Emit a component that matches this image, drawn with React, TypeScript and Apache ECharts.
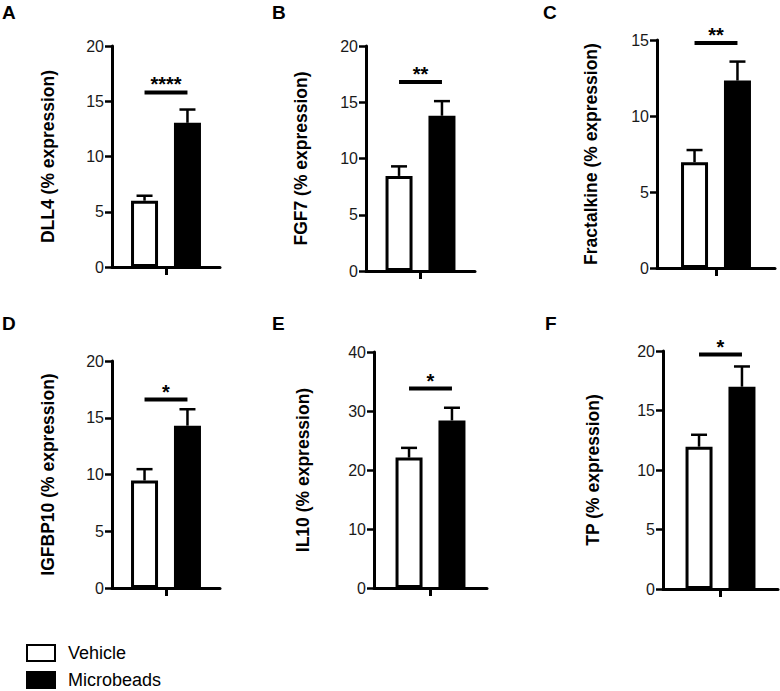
import React, { useEffect, useRef } from "react";
import * as echarts from "echarts";

// ---- data ----
const PANEL_LETTERS = ["A", "B", "C", "D", "E", "F"];
const Y_TITLES = [
  "DLL4 (% expression)",
  "FGF7 (% expression)",
  "Fractalkine (% expression)",
  "IGFBP10 (% expression)",
  "IL10 (% expression)",
  "TP (% expression)",
];
const GROUPS = ["Vehicle", "Microbeads"];
const VEHICLE_MEAN = [6.0, 8.45, 6.96, 9.47, 22.1, 11.96];
const VEHICLE_SEM = [0.45, 0.85, 0.8, 1.0, 1.65, 1.0];
const MICRO_MEAN = [13.05, 13.8, 12.33, 14.3, 28.4, 17.0];
const MICRO_SEM = [1.2, 1.3, 1.25, 1.45, 2.15, 1.7];
const SIG_LEVEL = [15.8, 16.8, 14.8, 16.6, 33.8, 19.7];
const SIG_STARS = ["****", "**", "**", "*", "*", "*"];
const Y_MAX = [20, 20, 15, 20, 40, 20];
const Y_INTERVAL = [5, 5, 5, 5, 10, 5];

// ---- layout / style ----
const GRIDS = [
  { left: 112, top: 46, width: 108, height: 221 },
  { left: 366, top: 46, width: 109, height: 225 },
  { left: 657, top: 40, width: 118, height: 228 },
  { left: 112, top: 361, width: 108, height: 227 },
  { left: 374, top: 352, width: 113, height: 236 },
  { left: 663, top: 351, width: 115, height: 238 },
];
const NAME_GAPS = [55, 56.5, 57.5, 55, 62, 61];
const LETTER_POS = [
  [2, 3],
  [272, 3],
  [543, 3],
  [2, 314],
  [272, 314],
  [545, 314],
];
const FONT = "'Liberation Sans', Arial, Helvetica, sans-serif";
const BAR_W = 27;
const BAR_GAP = 0.59;
const OFFSET = (BAR_W + BAR_W * BAR_GAP) / 2;

export default function App() {
  const ref = useRef<HTMLDivElement>(null);

  useEffect(() => {
    if (!ref.current) return;
    const chart = echarts.init(ref.current, null, { renderer: "svg" });

    const grid: any[] = [];
    const xAxis: any[] = [];
    const yAxis: any[] = [];
    const series: any[] = [];
    const graphic: any[] = [];

    PANEL_LETTERS.forEach((letter, i) => {
      grid.push({ ...GRIDS[i], containLabel: false });
      xAxis.push({
        type: "category",
        gridIndex: i,
        data: [""],
        axisLine: { show: true, lineStyle: { color: "#000", width: 3 } },
        axisTick: { show: true, alignWithLabel: true, length: 8, lineStyle: { color: "#000", width: 3 } },
        axisLabel: { show: false },
        splitLine: { show: false },
      });
      yAxis.push({
        type: "value",
        gridIndex: i,
        min: 0,
        max: Y_MAX[i],
        interval: Y_INTERVAL[i],
        name: Y_TITLES[i],
        nameLocation: "middle",
        nameRotate: 90,
        nameGap: NAME_GAPS[i],
        nameMoveOverlap: false,
        nameTextStyle: { fontFamily: FONT, fontSize: 17.5, fontWeight: "bold", color: "#000" },
        axisLine: { show: true, lineStyle: { color: "#000", width: 3 } },
        axisTick: { show: true, length: 7, lineStyle: { color: "#000", width: 2.5 } },
        axisLabel: { fontFamily: FONT, fontSize: 16, color: "#1a1a1a", margin: 8 },
        splitLine: { show: false },
      });
      series.push({
        name: GROUPS[0],
        type: "bar",
        xAxisIndex: i,
        yAxisIndex: i,
        barWidth: BAR_W,
        barGap: BAR_GAP * 100 + "%",
        itemStyle: { color: "#fff", borderColor: "#000", borderWidth: 3 },
        data: [VEHICLE_MEAN[i]],
      });
      series.push({
        name: GROUPS[1],
        type: "bar",
        xAxisIndex: i,
        yAxisIndex: i,
        barWidth: BAR_W,
        barGap: BAR_GAP * 100 + "%",
        itemStyle: { color: "#000", borderColor: "#000", borderWidth: 3 },
        data: [MICRO_MEAN[i]],
      });
      series.push({
        type: "custom",
        xAxisIndex: i,
        yAxisIndex: i,
        clip: false,
        silent: true,
        data: [
          [0, VEHICLE_MEAN[i], VEHICLE_SEM[i], -1],
          [0, MICRO_MEAN[i], MICRO_SEM[i], 1],
        ],
        renderItem: (params: any, api: any) => {
          const x = api.value(0);
          const mean = api.value(1);
          const sem = api.value(2);
          const side = api.value(3);
          const p0 = api.coord([x, mean]);
          const p1 = api.coord([x, mean + sem]);
          const cx = p0[0] + side * OFFSET;
          const st = { stroke: "#000", lineWidth: 2.5 };
          return {
            type: "group",
            children: [
              { type: "line", shape: { x1: cx, y1: p0[1], x2: cx, y2: p1[1] }, style: st },
              { type: "line", shape: { x1: cx - 8, y1: p1[1], x2: cx + 8, y2: p1[1] }, style: st },
            ],
          };
        },
      });
      series.push({
        type: "custom",
        xAxisIndex: i,
        yAxisIndex: i,
        clip: false,
        silent: true,
        data: [[0, SIG_LEVEL[i]]],
        renderItem: (params: any, api: any) => {
          const p = api.coord([api.value(0), api.value(1)]);
          return {
            type: "group",
            children: [
              {
                type: "line",
                shape: { x1: p[0] - OFFSET, y1: p[1], x2: p[0] + OFFSET, y2: p[1] },
                style: { stroke: "#000", lineWidth: 4 },
              },
              {
                type: "text",
                style: {
                  text: SIG_STARS[i],
                  x: p[0],
                  y: p[1] - 8,
                  align: "center",
                  verticalAlign: "middle",
                  font: `bold 20px ${FONT}`,
                  fill: "#000",
                },
              },
            ],
          };
        },
      });
      graphic.push({
        type: "text",
        left: LETTER_POS[i][0],
        top: LETTER_POS[i][1],
        style: { text: letter, font: `bold 19px ${FONT}`, fill: "#000" },
      });
    });

    chart.setOption({
      animation: false,
      backgroundColor: "#fff",
      grid,
      xAxis,
      yAxis,
      series,
      graphic,
      legend: {
        data: GROUPS,
        orient: "vertical",
        left: 26,
        top: 644,
        height: 46,
        padding: 0,
        itemWidth: 28,
        itemHeight: 16,
        itemGap: 9,
        icon: "rect",
        selectedMode: false,
        textStyle: { fontFamily: FONT, fontSize: 18, color: "#000", padding: [0, 0, 0, 8] },
      },
    });

    return () => chart.dispose();
  }, []);

  return (
    <div
      ref={ref}
      style={{ position: "absolute", left: 0, top: 0, width: 780, height: 691, background: "#fff" }}
    />
  );
}
